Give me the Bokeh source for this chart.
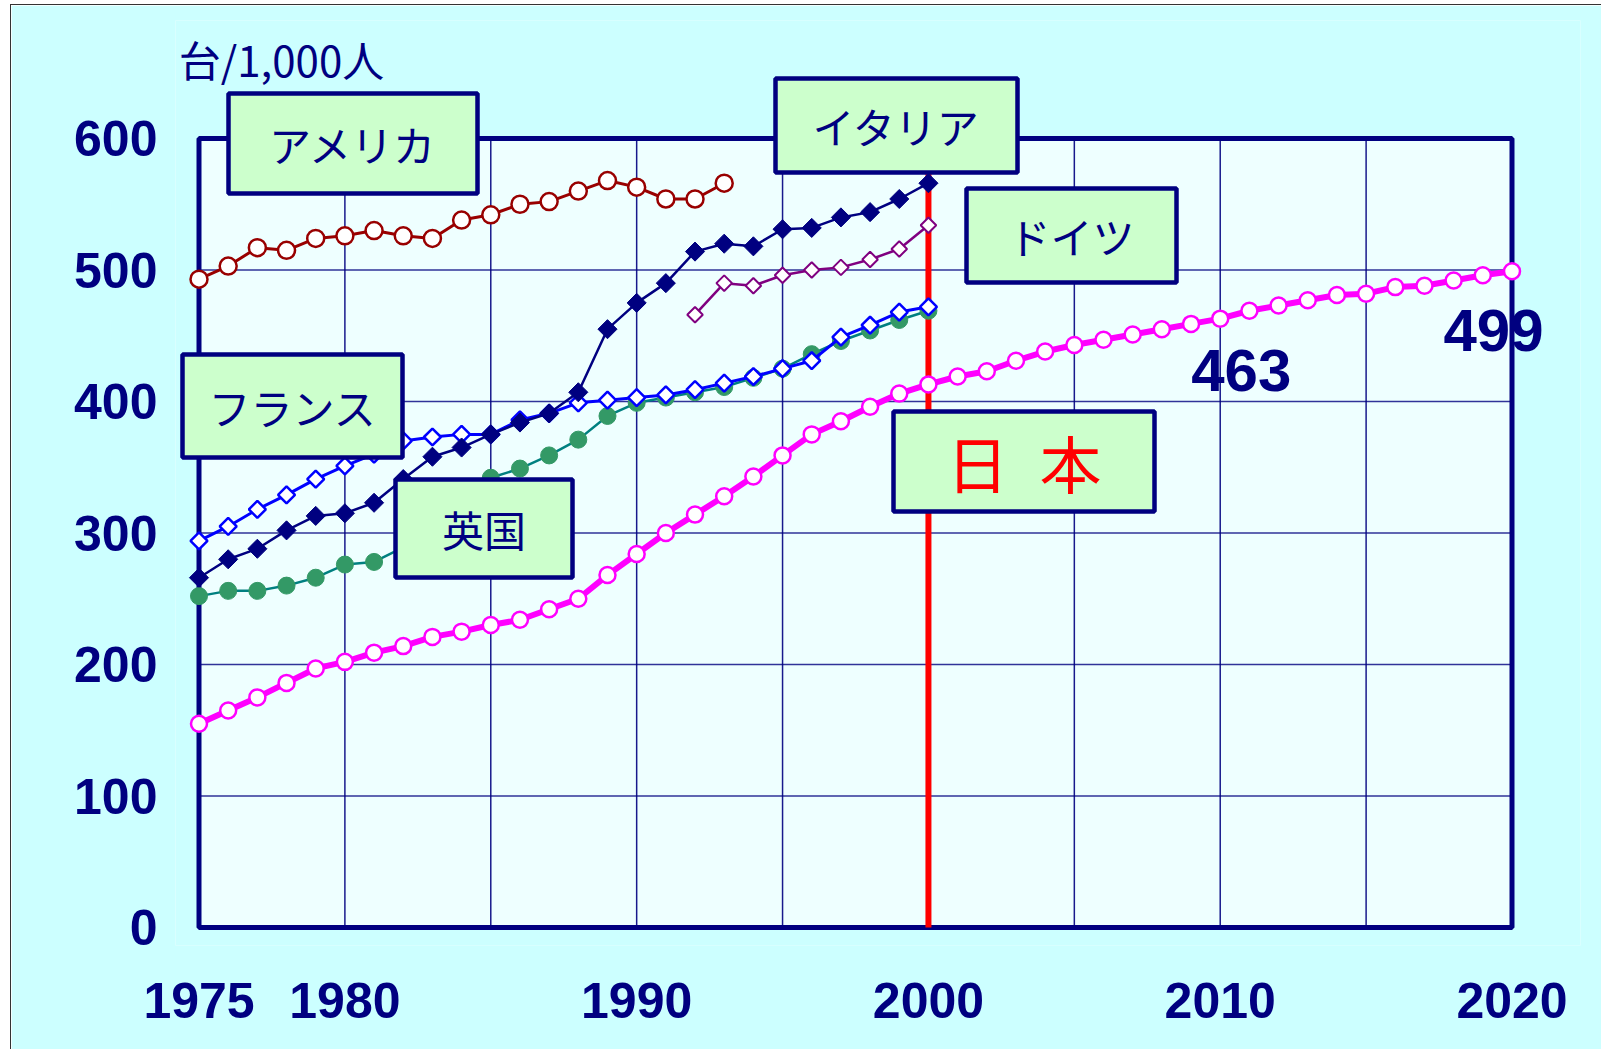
from bokeh.plotting import figure
from bokeh.models import BoxAnnotation, Label, FixedTicker, Range1d
from bokeh.embed import file_html
from bokeh.resources import INLINE

# ---------------- data ----------------
main_years = list(range(1975, 2001))
usa_years = list(range(1975, 1994))
germany_years = list(range(1992, 2001))
japan_years = list(range(1975, 2021))

usa = [493, 503, 517, 515, 524, 526, 530, 526, 524, 538, 542, 550, 552, 560, 568, 563, 554, 554, 566]
italy = [266, 280, 288, 302, 313, 315, 323, 341, 358, 365, 375, 384, 391, 407, 455, 475, 490, 514, 520,
         518, 531, 532, 540, 544, 554, 566]
germany = [466, 490, 488, 496, 500, 502, 508, 516, 534]
france = [294, 305, 318, 329, 341, 351, 360, 370, 373, 375, 375, 386, 391, 399, 401, 403, 405, 409, 414,
          419, 425, 431, 449, 458, 468, 472]
uk = [252, 256, 256, 260, 266, 276, 278, 289, 305, 322, 342, 349, 359, 371, 389, 399, 403, 407, 411,
      418, 425, 436, 446, 454, 462, 469]
japan = [155, 165, 175, 186, 197, 202, 209, 214, 221, 225, 230, 234, 242, 250, 268, 284, 300, 314, 328,
         343, 359, 375, 385, 396, 406, 413, 419, 423, 431, 438, 443, 447, 451, 455, 459, 463, 469, 473,
         477, 481, 482, 487, 488, 492, 496, 499]

x_label_years = [1975, 1980, 1990, 2000, 2010, 2020]
grid_years = [1980, 1985, 1990, 1995, 2000, 2005, 2010, 2015]
y_ticks = [0, 100, 200, 300, 400, 500, 600]
grid_values = [100, 200, 300, 400, 500]
mark_year = 2000
labelled_years = [2010, 2020]

unit_label = "台/1,000人"
country_labels = ["アメリカ", "イタリア", "ドイツ", "フランス", "英国", "日\u2002本"]

# ---------------- layout (page pixels) ----------------
OFF_X, OFF_Y = 11, 5          # figure's top-left corner on the page
FIG_W, FIG_H = 1591, 1045
X_START, X_END = 1975, 2020
Y_START, Y_END = 0, 600
X0_PX, X1_PX = 198.5, 1511.5
Y0_PX, Y1_PX = 927.0, 138.0
FRAME_L, FRAME_R, FRAME_T, FRAME_B = 175, 1580, 20, 945

ppx = (X1_PX - X0_PX) / (X_END - X_START)
ppy = (Y0_PX - Y1_PX) / (Y_END - Y_START)


def dx(px):
    return X_START + (px - X0_PX) / ppx


def dy(py):
    return Y_START + (Y0_PX - py) / ppy


NAVY = "#000080"
BG_OUT = "#CCFFFF"
BG_IN = "#EEFFFF"
BOX_FILL = "#CCFFCC"

p = figure(width=FIG_W, height=FIG_H,
           x_range=Range1d(dx(FRAME_L), dx(FRAME_R)),
           y_range=Range1d(dy(FRAME_B), dy(FRAME_T)),
           output_backend="svg", toolbar_location=None,
           min_border_left=FRAME_L - OFF_X, min_border_right=OFF_X + FIG_W - FRAME_R,
           min_border_top=FRAME_T - OFF_Y, min_border_bottom=OFF_Y + FIG_H - FRAME_B)
p.styles = {"margin-left": "10px", "margin-top": "4px",
            "border-left": "1px solid #333333", "border-top": "1px solid #333333"}

p.background_fill_color = BG_OUT
p.border_fill_color = BG_OUT
p.outline_line_color = None
p.xgrid.grid_line_color = None
p.ygrid.grid_line_color = None

for ax in (p.xaxis, p.yaxis):
    ax.axis_line_color = None
    ax.major_tick_line_color = None
    ax.minor_tick_line_color = None
    ax.major_tick_out = 0
    ax.major_tick_in = 0
    ax.major_label_text_font = "Liberation Sans"
    ax.major_label_text_font_style = "bold"
    ax.major_label_text_font_size = "50px"
    ax.major_label_text_color = NAVY
p.xaxis.ticker = FixedTicker(ticks=x_label_years)
p.yaxis.ticker = FixedTicker(ticks=y_ticks)
p.xaxis.major_label_standoff = 37
p.yaxis.major_label_standoff = 18

# plot area
p.quad(left=[X_START], right=[X_END], bottom=[Y_START], top=[Y_END],
       fill_color=BG_IN, line_color=NAVY, line_width=5)
# grid
p.segment(x0=grid_years, y0=[Y_START] * len(grid_years), x1=grid_years, y1=[Y_END] * len(grid_years),
          line_color=NAVY, line_width=1.5, line_alpha=0.9)
p.segment(x0=[X_START] * len(grid_values), y0=grid_values, x1=[X_END] * len(grid_values), y1=grid_values,
          line_color=NAVY, line_width=1.5, line_alpha=0.8)
# red line at 2000
p.segment(x0=[mark_year], y0=[Y_START], x1=[mark_year], y1=[Y_END], line_color="#FF0000", line_width=6)

# UK
p.line(main_years, uk, line_color="#008080", line_width=2.5)
p.scatter(main_years, uk, marker="circle", size=17, fill_color="#339966", line_color="#339966")
# France
p.line(main_years, france, line_color="#0000FF", line_width=3)
p.scatter(main_years, france, marker="square", angle=0.785398, size=12, fill_color="white",
          line_color="#0000FF", line_width=2.5)
# Italy
p.line(main_years, italy, line_color=NAVY, line_width=2.5)
p.scatter(main_years, italy, marker="square", angle=0.785398, size=13.5, fill_color=NAVY,
          line_color=NAVY)
# Germany
p.line(germany_years, germany, line_color="#800080", line_width=2.5)
p.scatter(germany_years, germany, marker="square", angle=0.785398, size=11, fill_color="white",
          line_color="#800080", line_width=2)
# USA
p.line(usa_years, usa, line_color="#990000", line_width=3)
p.scatter(usa_years, usa, marker="circle", size=17, fill_color="white", line_color="#990000", line_width=2.5)
# Japan
p.line(japan_years, japan, line_color="#FF00FF", line_width=6)
p.scatter(japan_years, japan, marker="circle", size=16, fill_color="white", line_color="#FF00FF", line_width=2.5)

# label boxes: (left, right, top, bottom) in page px, text colour, font size
box_layout = [
    (228, 477, 93, 193, NAVY, "42px"),
    (775, 1017, 78, 172, NAVY, "42px"),
    (966, 1176, 188, 282, NAVY, "42px"),
    (182, 402, 354, 457, NAVY, "42px"),
    (395, 572, 479, 577, NAVY, "42px"),
    (893, 1154, 411, 511, "#FF0000", "62px"),
]
for txt, (l, r, t, b, col, fs) in zip(country_labels, box_layout):
    p.add_layout(BoxAnnotation(left=dx(l), right=dx(r), top=dy(t), bottom=dy(b),
                               fill_color=BOX_FILL, fill_alpha=1.0, line_color=NAVY, line_alpha=1.0,
                               line_width=4.5))
    p.add_layout(Label(x=dx((l + r) / 2), y=dy((t + b) / 2), text=txt, text_align="center",
                       text_baseline="middle", text_font="Noto Sans CJK JP", text_font_size=fs,
                       text_color=col))

# unit label
p.add_layout(Label(x=dx(281), y=dy(58), text=unit_label, text_align="center", text_baseline="middle",
                   text_font="Noto Sans CJK JP", text_font_size="42px", text_color=NAVY))

# value labels for Japan
value_offsets = [(21, 52), (-18.5, 59)]
for yr, (ox, oy) in zip(labelled_years, value_offsets):
    v = japan[japan_years.index(yr)]
    p.add_layout(Label(x=yr + ox / ppx, y=v - oy / ppy, text=str(v), text_align="center",
                       text_baseline="middle", text_font="Liberation Sans", text_font_style="bold",
                       text_font_size="60px", text_color=NAVY))

open("out.html", "w").write(file_html(p, INLINE))
